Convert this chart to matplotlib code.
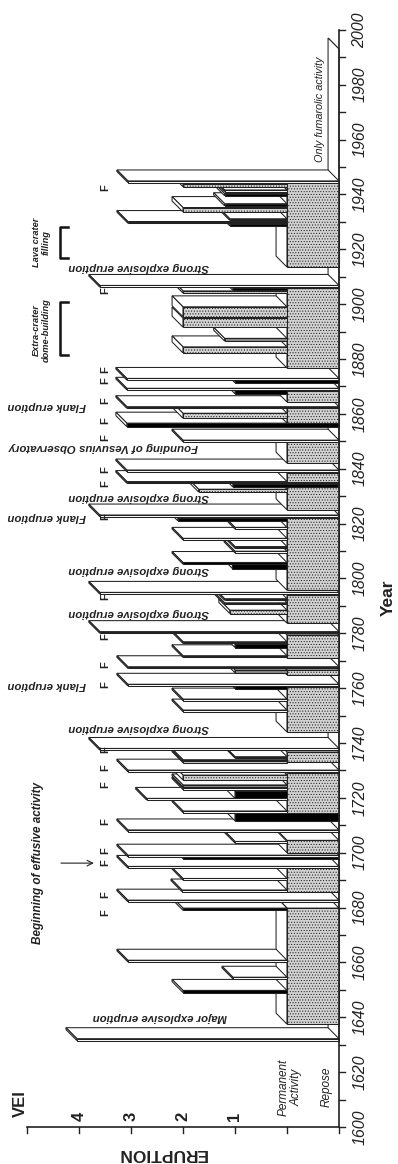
import matplotlib
matplotlib.use("Agg")
import matplotlib.pyplot as plt
from matplotlib.patches import Polygon

plt.rcParams['font.family'] = ['Liberation Sans', 'DejaVu Sans']
plt.rcParams['hatch.linewidth'] = 0.45

# permanent activity periods (stippled slab, level 0-1)
perm_start = [1637.5, 1685.7, 1700.0, 1714.5, 1733.0, 1744.0, 1764.8, 1771.0, 1783.7,
              1795.7, 1825.0, 1835.3, 1842.0, 1856.6, 1864.3, 1876.7, 1913.5]
perm_end = [1679.8, 1694.4, 1704.5, 1729.0, 1736.7, 1760.4, 1766.6, 1779.4, 1794.0,
            1822.0, 1834.2, 1838.4, 1849.7, 1862.1, 1868.4, 1906.0, 1944.0]

# repose floor
repose_start = 1631.0
repose_end = 1993.0

# eruptions: start year, duration, base level, top level, fill
bar_start = [1631.5, 1649.0, 1654.0, 1660.2, 1679.0, 1682.1, 1685.8, 1690.0, 1694.4, 1697.8,
             1698.5, 1703.5, 1707.7, 1711.6, 1714.6, 1719.2, 1719.8, 1723.0, 1724.0, 1726.5,
             1729.5, 1732.8, 1733.3, 1734.5, 1737.4, 1751.4, 1755.4, 1759.8, 1760.8, 1765.6,
             1767.2, 1771.2, 1774.8, 1776.3, 1780.0, 1787.2, 1790.5, 1792.0, 1794.3, 1803.6,
             1805.2, 1809.3, 1811.0, 1814.0, 1818.0, 1821.0, 1822.5, 1831.5, 1833.3, 1834.7,
             1838.9, 1849.8, 1855.3, 1858.4, 1862.0, 1867.3, 1868.7, 1871.3, 1872.3, 1882.2,
             1886.5, 1891.6, 1895.4, 1904.0, 1905.0, 1906.2, 1928.5, 1929.5, 1930.5, 1933.6,
             1935.8, 1939.5, 1941.0, 1942.8, 1944.3]
bar_width = [0.7, 0.8, 0.6, 0.6, 0.8, 0.6, 0.6, 0.6, 0.6, 0.6,
             0.6, 0.6, 0.6, 2.9, 0.6, 0.6, 2.6, 0.6, 0.7, 1.8,
             0.6, 0.5, 0.6, 0.5, 0.6, 0.6, 0.6, 0.8, 0.6, 1.0,
             0.6, 0.6, 1.2, 0.6, 0.6, 1.2, 0.6, 0.6, 0.6, 1.6,
             0.6, 0.6, 0.6, 0.6, 0.6, 1.0, 0.6, 1.0, 1.0, 0.6,
             0.6, 0.6, 1.3, 1.8, 0.6, 1.2, 0.6, 0.9, 0.6, 2.2,
             1.0, 3.3, 3.6, 0.8, 0.8, 0.6, 0.8, 0.6, 0.6, 1.6,
             0.8, 0.8, 0.6, 1.0, 0.6]
bar_base = [0, 1, 1, 1, 1, 0, 1, 1, 0, 0,
            0, 1, 0, 0, 1, 1, 1, 1, 1, 1,
            0, 1, 1, 1, 0, 1, 1, 1, 0, 1,
            0, 1, 1, 1, 0, 1, 1, 1, 0, 1,
            1, 1, 1, 1, 1, 1, 0, 1, 0, 0,
            0, 0, 0, 1, 0, 1, 0, 0, 0, 1,
            1, 1, 1, 1, 1, 0, 1, 1, 1, 1,
            1, 1, 1, 1, 0]
bar_top = [5.04, 3.0, 2.04, 4.06, 3.0, 4.06, 3.02, 3.0, 4.06, 3.0,
           4.06, 2.0, 4.06, 2.0, 3.0, 3.7, 2.0, 3.0, 3.0, 3.0,
           4.06, 3.0, 3.0, 2.0, 4.6, 3.0, 3.0, 2.0, 4.06, 2.0,
           4.06, 3.0, 2.0, 3.0, 4.6, 2.1, 2.2, 2.2, 4.6, 2.05,
           3.0, 2.0, 2.0, 3.0, 2.0, 3.1, 4.6, 2.7, 2.04, 4.08,
           4.08, 3.0, 4.08, 3.0, 4.08, 2.0, 4.08, 2.0, 4.08, 3.0,
           2.2, 3.0, 3.0, 3.0, 2.04, 4.6, 2.1, 4.06, 2.1, 3.0,
           2.2, 2.2, 2.2, 3.0, 4.06]
bar_kind = ['w', 'k', 'w', 'w', 'k', 'w', 'w', 'w', 'w', 'k',
            'w', 'w', 'w', 'k', 'w', 'w', 'k', 'w', 'g', 's',
            'w', 's', 'w', 'w', 'w', 'w', 'w', 'k', 'w', 'g',
            'w', 'k', 'k', 'w', 'w', 's', 'w', 'w', 'w', 'k',
            'k', 'w', 'w', 'w', 'w', 'k', 'w', 's', 'k', 'w',
            'w', 'w', 'k', 's', 'w', 'k', 'w', 'k', 'w', 's',
            'g', 's', 's', 's', 'k', 'w', 'k', 'w', 'w', 's',
            'k', 'k', 'w', 's', 'w']

# flank eruption marks
f_years = [1678.0, 1684.6, 1696.2, 1700.6, 1711.2, 1724.7, 1730.9, 1737.4, 1761.1, 1768.4,
           1778.6, 1793.2, 1822.4, 1834.4, 1839.5, 1851.2, 1857.4, 1864.7, 1872.0, 1876.0,
           1904.8, 1942.3]

year_ticks = list(range(1600, 2001, 10))
year_labels = list(range(1600, 2001, 20))
vei_labels = ['1', '2', '3', '4']

DV, DT = 0.21, 4.0
FILL = {'w': ('white', None), 'k': ('black', None), 'g': ('#8a8a8a', None),
        's': ('#d2d2d2', '......')}
EDGE = '#222222'
LW = 0.75

fig = plt.figure(figsize=(3.98, 11.64), dpi=100)
ax = fig.add_axes([0, 0, 1, 1])
ax.set_xlim(6.519, -1.135)
ax.set_ylim(1586.51, 2010.86)
ax.axis('off')

zc = [1]


def poly(pts, fc, hatch=None):
    ax.add_patch(Polygon(pts, closed=True, facecolor=fc, edgecolor=EDGE,
                         linewidth=LW, hatch=hatch, zorder=zc[0]))
    zc[0] += 1


def box(t0, w, b, v, kind):
    t1 = t0 + w
    fc, hatch = FILL[kind]
    poly([(b, t1), (v, t1), (v + DV, t1 + DT), (b + DV, t1 + DT)], 'white')
    poly([(v, t0), (v, t1), (v + DV, t1 + DT), (v + DV, t0 + DT)], 'white')
    if v > b:
        poly([(b, t0), (v, t0), (v, t1), (b, t1)], fc, hatch)


items = [(repose_start, repose_end - repose_start, 0, 0.0, 'w')]
for s, e in zip(perm_start, perm_end):
    items.append((s, e - s, 0, 1.0, 's'))
for i in range(len(bar_start)):
    items.append((bar_start[i], bar_width[i], bar_base[i], bar_top[i], bar_kind[i]))
items.sort(key=lambda it: it[0])
for it in items:
    box(*it)

# axes
ax.plot([0, 0], [1600, 2000], color=EDGE, lw=1.2, zorder=500)
ax.plot([0, 6], [1600, 1600], color=EDGE, lw=1.2, zorder=500)
for y in year_ticks:
    ax.plot([0, -0.12], [y, y], color=EDGE, lw=1.0, zorder=500)
for y in year_labels:
    ax.text(-0.40, y, str(y), rotation=90, ha='center', va='center', fontsize=11.5,
            style='italic', color='#222')
for lv in range(7):
    ax.plot([lv, lv], [1600, 1597.8], color=EDGE, lw=1.0, zorder=500)
for i, lab in enumerate(vei_labels):
    ax.text(2 + i, 1604.0, lab, rotation=90, ha='center', va='center', fontsize=12,
            fontweight='bold', color='#222')
ax.text(6.13, 1608.4, 'VEI', rotation=90, ha='center', va='center', fontsize=12,
        fontweight='bold', color='#222')
ax.text(3.40, 1590.5, 'ERUPTION', rotation=180, ha='center', va='center', fontsize=12.5,
        fontweight='bold', color='#222')
ax.text(-0.94, 1792.9, 'Year', rotation=90, ha='center', va='center', fontsize=12.5,
        fontweight='bold', color='#222')
ax.text(0.94, 1614.6, 'Permanent\nActivity', rotation=90, ha='center', va='center',
        fontsize=8.5, style='italic', color='#222', linespacing=1.1)
ax.text(0.23, 1614.6, 'Repose', rotation=90, ha='center', va='center',
        fontsize=8.5, style='italic', color='#222')

# event labels
lab_kw = dict(rotation=180, ha='center', va='center', fontsize=8.2, style='italic',
              fontweight='bold', color='#222', zorder=600)
ax.text(3.45, 1640.1, 'Major explosive eruption', **lab_kw)
for y in [1745.5, 1787.4, 1803.2, 1829.7, 1913.5]:
    ax.text(3.86, y, 'Strong explosive eruption', **lab_kw)
for y in [1761.1, 1822.4, 1862.9]:
    ax.text(5.62, y, 'Flank eruption', **lab_kw)
ax.text(4.53, 1847.9, 'Founding of Vesuvius Observatory', **lab_kw)

ax.text(5.79, 1696.2, 'Beginning of effusive activity', rotation=90, ha='center',
        va='center', fontsize=8.5, style='italic', fontweight='bold', color='#222')
ax.annotate('', xy=(4.66, 1696.2), xytext=(5.40, 1696.2),
            arrowprops=dict(arrowstyle='->', lw=0.8, color='#222'))
ax.text(0.37, 1971.1, 'Only fumarolic activity', rotation=90, ha='center', va='center',
        fontsize=7.8, style='italic', color='#222', zorder=600)
ax.text(5.73, 1890.6, 'Extra-crater\ndome-building', rotation=90, ha='center', va='center',
        fontsize=6.7, style='italic', fontweight='bold', color='#222', linespacing=1.1)
ax.text(5.73, 1922.5, 'Lava crater\nfilling', rotation=90, ha='center', va='center',
        fontsize=6.7, style='italic', fontweight='bold', color='#222', linespacing=1.1)
for y1, y2 in [(1881.4, 1900.8), (1916.8, 1928.1)]:
    ax.plot([5.21, 5.37, 5.37, 5.21], [y1, y1, y2, y2], color='#111', lw=1.8)

for y in f_years:
    ax.text(4.50, y, 'F', rotation=90, ha='center', va='center', fontsize=8,
            fontweight='bold', color='#222', zorder=600)

fig.savefig('out.png', dpi=100)
